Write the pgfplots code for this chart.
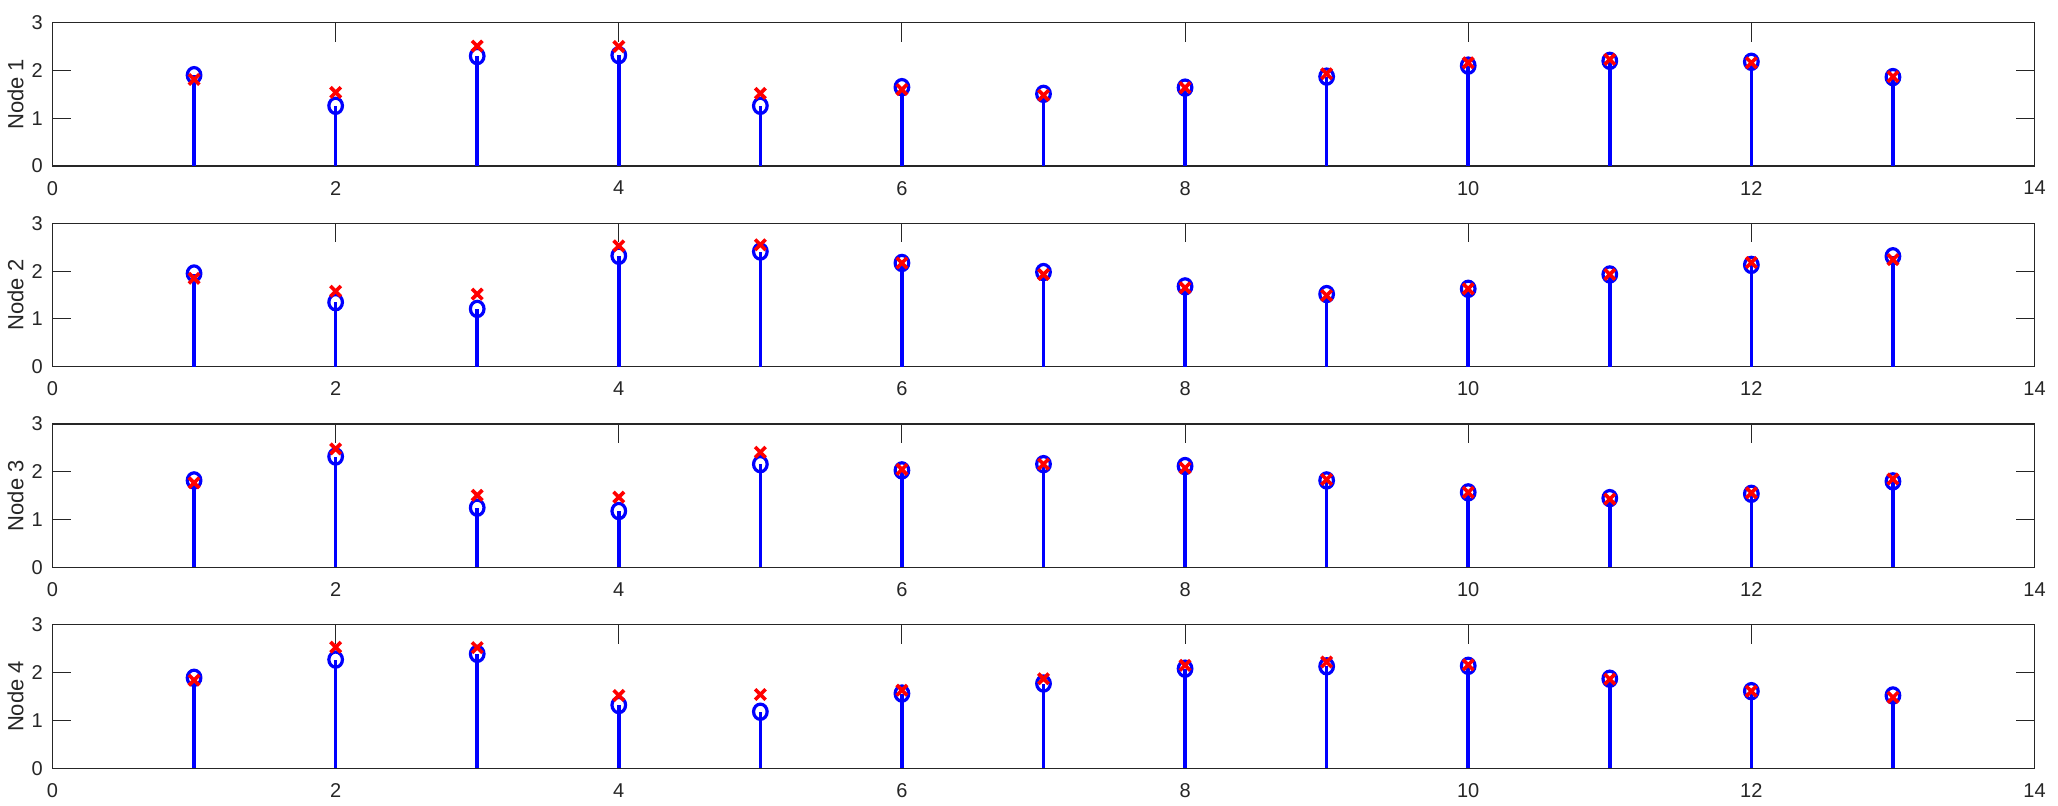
\documentclass[border=0pt]{standalone}
\usepackage{pgfplots}
\usepackage{pgfplotstable}
\pgfplotsset{compat=1.18}
\usepackage{fontspec}
\setmainfont{Liberation Sans}
\definecolor{axgray}{RGB}{38,38,38}
\definecolor{mblue}{RGB}{0,0,255}
\definecolor{mred}{RGB}{255,0,0}

\pgfplotstableread{
x b r
1 1.90 1.81
2 1.26 1.54
3 2.30 2.51
4 2.32 2.50
5 1.26 1.52
6 1.65 1.60
7 1.51 1.48
8 1.64 1.64
9 1.87 1.93
10 2.10 2.16
11 2.20 2.23
12 2.18 2.16
13 1.86 1.87
}\nodeone
\pgfplotstableread{
x b r
1 1.95 1.85
2 1.35 1.58
3 1.21 1.52
4 2.32 2.53
5 2.41 2.55
6 2.17 2.17
7 1.98 1.93
8 1.68 1.65
9 1.52 1.49
10 1.63 1.63
11 1.93 1.93
12 2.13 2.18
13 2.31 2.24
}\nodetwo
\pgfplotstableread{
x b r
1 1.82 1.77
2 2.32 2.48
3 1.25 1.51
4 1.18 1.47
5 2.16 2.41
6 2.03 2.05
7 2.16 2.16
8 2.12 2.08
9 1.82 1.84
10 1.57 1.57
11 1.45 1.43
12 1.54 1.56
13 1.80 1.85
}\nodethree
\pgfplotstableread{
x b r
1 1.89 1.84
2 2.27 2.53
3 2.39 2.52
4 1.32 1.52
5 1.18 1.54
6 1.56 1.63
7 1.77 1.87
8 2.08 2.15
9 2.13 2.22
10 2.14 2.16
11 1.87 1.86
12 1.61 1.61
13 1.52 1.48
}\nodefour

\pgfplotsset{
  myax/.style={
    scale only axis,
    width=991pt, height=71.75pt,
    xmin=0, xmax=14, ymin=0, ymax=3,
    xtick={0,2,...,14}, ytick={0,1,2,3},
    tick align=inside,
    major tick length=9.5pt,
    axis line style={axgray, line width=0.6pt},
    every tick/.style={axgray, line width=0.5pt},
    tick label style={font=\fontsize{10}{12}\selectfont, text=axgray},
    /pgf/number format/assume math mode=true,
    xticklabel style={yshift=-4pt},
    yticklabel style={xshift=-1.4pt},
    every axis y label/.style={at={(axis description cs:0,0.5)}, xshift=-18.5pt, rotate=90, anchor=center, font=\fontsize{11}{13}\selectfont, text=axgray},
    clip=false,
  },
  stemb/.style={ycomb, mblue, line width=1.8pt, mark=o, mark size=3.4pt, mark options={line width=1.6pt, mblue, fill=none, yscale=1.12}},
  xr/.style={only marks, mred, mark=x, mark size=3.7pt, mark options={line width=1.8pt, mred}},
}

\begin{document}
\begin{tikzpicture}
\path[use as bounding box] (-26.25pt,-18.9pt) rectangle (1002.75pt,384.1pt);
\begin{axis}[myax, at={(0pt,301.05pt)}, ylabel={Node 1}]
\addplot[stemb] table[x=x,y=b] {\nodeone};
\addplot[xr] table[x=x,y=r] {\nodeone};
\end{axis}
\begin{axis}[myax, at={(0pt,200.7pt)}, ylabel={Node 2}]
\addplot[stemb] table[x=x,y=b] {\nodetwo};
\addplot[xr] table[x=x,y=r] {\nodetwo};
\end{axis}
\begin{axis}[myax, at={(0pt,100.35pt)}, ylabel={Node 3}]
\addplot[stemb] table[x=x,y=b] {\nodethree};
\addplot[xr] table[x=x,y=r] {\nodethree};
\end{axis}
\begin{axis}[myax, at={(0pt,0pt)}, ylabel={Node 4}]
\addplot[stemb] table[x=x,y=b] {\nodefour};
\addplot[xr] table[x=x,y=r] {\nodefour};
\end{axis}
\end{tikzpicture}
\end{document}
